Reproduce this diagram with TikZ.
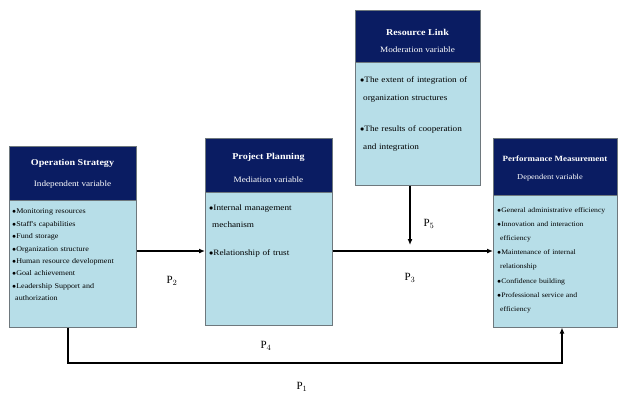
\documentclass[tikz,border=0pt]{standalone}
\usepackage{fontspec}
\setmainfont{Liberation Serif}
\newfontfamily\wfont[FakeStretch=1.12]{Liberation Serif}
\usetikzlibrary{arrows.meta}
\definecolor{navy}{RGB}{10,28,98}
\definecolor{lightbox}{RGB}{183,222,232}
\definecolor{boxline}{RGB}{110,120,125}
\tikzset{
  hdr/.style={draw=boxline, fill=navy, anchor=north west, inner sep=0pt, line width=0.5pt},
  bodybox/.style={draw=boxline, fill=lightbox, anchor=north west, inner sep=0pt, line width=0.5pt},
  ttlnode/.style={text=white, inner sep=0pt, font=\wfont\fontsize{9}{10}\selectfont\bfseries},
  subnode/.style={text=white, inner sep=0pt, font=\wfont\fontsize{8.2}{10}\selectfont},
  bodytext/.style={anchor=north west, align=left, inner sep=0pt},
  arr/.style={line width=1.6pt, -{Latex[length=6pt,width=5pt]}},
  plabel/.style={font=\fontsize{11}{12}\selectfont}
}
\begin{document}
\begin{tikzpicture}[x=1pt,y=-1pt]
\useasboundingbox (0,0) rectangle (621,397);
% Operation Strategy
\node[hdr, minimum width=127pt, minimum height=54pt] (osh) at (9,146) {};
\node[ttlnode] (ost1) at (72.5,163) {Operation Strategy};
\node[subnode] (ost2) at (72.5,185) {Independent variable};
\node[bodybox, minimum width=127pt, minimum height=127pt] (osb) at (9,200) {};
\node[bodytext, text width=125pt, font=\wfont\fontsize{7.2}{12.4}\selectfont] (ost) at (12,209) {%
$\bullet$Monitoring resources\\
$\bullet$Staff's capabilities\\
$\bullet$Fund storage\\
$\bullet$Organization structure\\
$\bullet$Human resource development\\
$\bullet$Goal achievement\\
$\bullet$Leadership Support and\\
\hspace*{3pt}authorization};
% Project Planning
\node[hdr, minimum width=127pt, minimum height=54pt] (pph) at (205,138) {};
\node[ttlnode] (ppt1) at (268.5,157) {Project Planning};
\node[subnode] (ppt2) at (268.5,180) {Mediation variable};
\node[bodybox, minimum width=127pt, minimum height=133pt] (ppb) at (205,192) {};
\node[bodytext, text width=125pt, font=\wfont\fontsize{8.2}{17}\selectfont] (ppt) at (209,205) {%
$\bullet$Internal management\\
\hspace*{3pt}mechanism\\[11pt]
$\bullet$Relationship of trust};
% Resource Link
\node[hdr, minimum width=125pt, minimum height=52pt] (rlh) at (355,10) {};
\node[ttlnode] (rlt1) at (417.5,32) {Resource Link};
\node[subnode] (rlt2) at (417.5,50) {Moderation variable};
\node[bodybox, minimum width=125pt, minimum height=123pt] (rlb) at (355,62) {};
\node[bodytext, text width=123pt, font=\wfont\fontsize{8.2}{17.5}\selectfont] (rlt) at (360,77) {%
$\bullet$The extent of integration of\\
\hspace*{3pt}organization structures\\[14pt]
$\bullet$The results of cooperation\\
\hspace*{3pt}and integration};
% Performance Measurement
\node[hdr, minimum width=124pt, minimum height=57pt] (pmh) at (493,138) {};
\node[ttlnode, font=\wfont\fontsize{8}{10}\selectfont\bfseries] (pmt1) at (555,159) {Performance Measurement};
\node[subnode, font=\wfont\fontsize{7.5}{10}\selectfont] (pmt2) at (550,178) {Dependent variable};
\node[bodybox, minimum width=124pt, minimum height=132pt] (pmb) at (493,195) {};
\node[bodytext, text width=123pt, font=\wfont\fontsize{6.9}{14.2}\selectfont] (pmt) at (497,207) {%
$\bullet$General administrative efficiency\\
$\bullet$Innovation and interaction\\
\hspace*{3pt}efficiency\\
$\bullet$Maintenance of internal\\
\hspace*{3pt}relationship\\
$\bullet$Confidence building\\
$\bullet$Professional service and\\
\hspace*{3pt}efficiency};
% helper coordinates
\coordinate (ymain) at (0,251);
\coordinate (yv) at (0,245);
\coordinate (xv) at (410,0);
\coordinate (xl) at (68,0);
\coordinate (xr) at (562,0);
\coordinate (ybot) at (0,363);
% connectors
\draw[arr] (osb.east |- ymain) -- (ppb.west |- ymain);
\draw[arr] (ppb.east |- ymain) -- (pmb.west |- ymain);
\draw[arr] (xv |- rlb.south) -- (xv |- yv);
\draw[arr] (xl |- osb.south) -- (xl |- ybot) -- (xr |- ybot) -- (xr |- pmb.south);
% labels
\node[plabel] (p2) at (172,281) {P$_2$};
\node[plabel] (p3) at (410,278) {P$_3$};
\node[plabel] (p5) at (429,224) {P$_5$};
\node[plabel] (p4) at (266,346) {P$_4$};
\node[plabel] (p1) at (302,387) {P$_1$};
\end{tikzpicture}
\end{document}
